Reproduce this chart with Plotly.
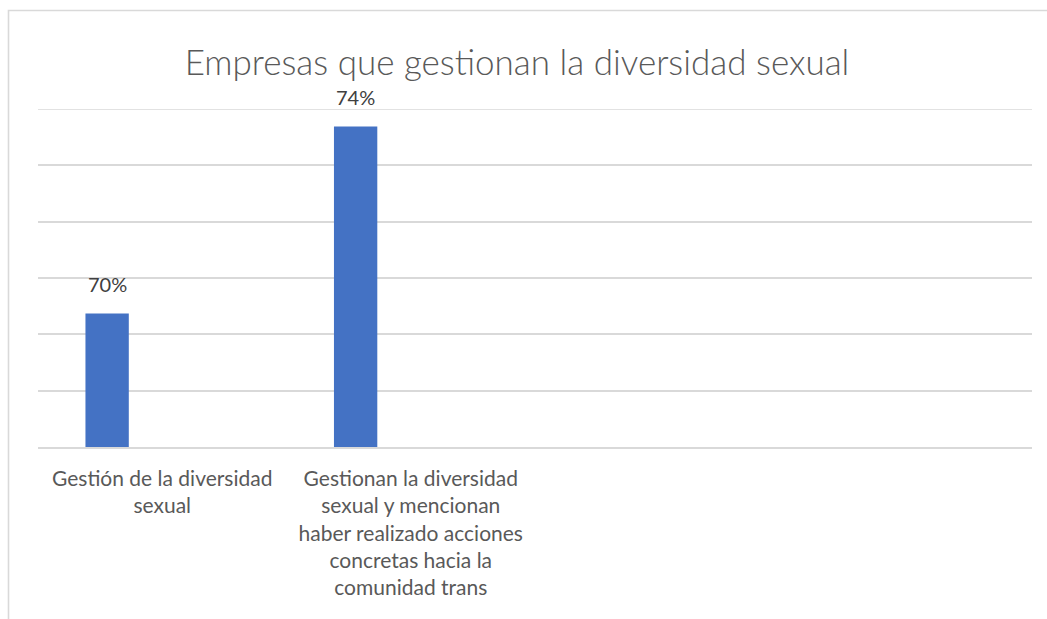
import plotly.graph_objects as go

# ---- data ----
categories = [
    "Gestión de la diversidad<br>sexual",
    "Gestionan la diversidad<br>sexual y mencionan<br>haber realizado acciones<br>concretas hacia la<br>comunidad trans",
    "",
    "",
]
values = [0.7037, 0.7369]          # series values (shown rounded as 70% / 74%)
labels = ["70%", "74%"]
title_text = "Empresas que gestionan la diversidad sexual"
y_min, y_max, y_step = 0.68, 0.74, 0.01

# ---- layout constants (pixels) ----
W, H = 1047, 619
ML, MR, MT, MB = 38, 15, 109, 172
PW, PH = W - ML - MR, H - MT - MB

BAR_W = 0.1744      # bar width in category units
BAR_OFF = -0.309    # left edge offset from category centre
GRID = "#d9d9d9"
GW = 1.6

idx = list(range(len(values)))

fig = go.Figure()
fig.add_trace(go.Bar(
    x=idx, y=values,
    width=BAR_W, offset=BAR_OFF,
    marker=dict(color="#4472C4", line=dict(width=0)),
    hoverinfo="skip",
))

for i, (v, t) in enumerate(zip(values, labels)):
    fig.add_annotation(
        x=i + BAR_OFF + BAR_W / 2, y=v, text=t, showarrow=False,
        yanchor="bottom", yshift=15,
        font=dict(family="Lato", size=20, color="#404040"),
    )

def px_x(p):
    return (p - ML) / PW

def px_y(p):
    return (H - MB - p) / PH

# outer chart border
fig.add_shape(
    type="rect", xref="paper", yref="paper",
    x0=px_x(8.5), x1=px_x(W + 20), y0=px_y(H + 20), y1=px_y(10.5),
    line=dict(color=GRID, width=GW), fillcolor="rgba(0,0,0,0)", layer="below",
)
# top gridline (at the axis maximum)
fig.add_shape(
    type="line", xref="paper", yref="y", x0=0, x1=1, y0=y_max, y1=y_max,
    line=dict(color=GRID, width=GW), layer="below",
)

fig.update_layout(
    width=W, height=H,
    margin=dict(l=ML, r=MR, t=MT, b=MB, pad=0),
    paper_bgcolor="white", plot_bgcolor="white",
    showlegend=False,
    title=dict(
        text=title_text, x=517 / W, xanchor="center",
        y=1 - 63 / H, yanchor="middle",
        font=dict(family="Lato", size=35, color="#595959", weight=300),
    ),
    xaxis=dict(
        range=[-0.5, len(categories) - 0.5],
        tickvals=list(range(len(categories))), ticktext=categories,
        showgrid=False, zeroline=False,
        showline=True, linecolor=GRID, linewidth=GW,
        ticks="", ticklabelstandoff=12,
        tickfont=dict(family="Lato", size=21, color="#595959"),
        fixedrange=True,
    ),
    yaxis=dict(
        range=[y_min, y_max], dtick=y_step, tick0=y_min,
        showticklabels=False, showgrid=True, gridcolor=GRID, gridwidth=GW,
        zeroline=False, showline=False, ticks="", fixedrange=True,
    ),
)

fig.write_html("out.html")
